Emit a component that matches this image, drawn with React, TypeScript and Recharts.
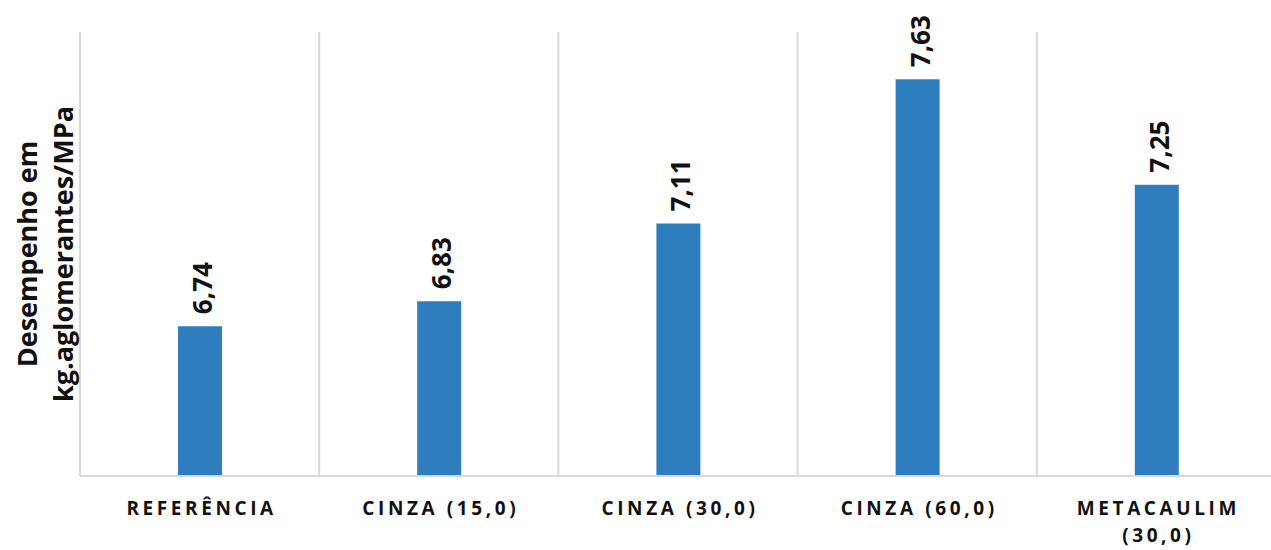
import React from 'react';
import { BarChart, Bar, XAxis, YAxis, CartesianGrid, LabelList } from 'recharts';

const categories = ['REFERÊNCIA', 'CINZA (15,0)', 'CINZA (30,0)', 'CINZA (60,0)', 'METACAULIM (30,0)'];
const desempenho = [6.74, 6.83, 7.11, 7.63, 7.25];
const yDomain = [6.2, 7.8];
const yTitle = ['Desempenho em', 'kg.aglomerantes/MPa'];

const data = categories.map((name, i) => ({ name, value: desempenho[i] }));

const FONT = '"Open Sans", "DejaVu Sans", sans-serif';
const GRID = '#d9d9d9';

// splits long category names onto two lines like the original
const CategoryTick = (props: any) => {
  const { x, y, payload } = props;
  const text: string = payload.value;
  let lines = [text];
  if (text.length > 14) {
    const cut = text.lastIndexOf(' ');
    lines = [text.slice(0, cut), text.slice(cut + 1)];
  }
  return (
    <text
      x={x}
      y={y}
      textAnchor="middle"
      fontFamily={FONT}
      fontWeight={700}
      fontSize={19}
      letterSpacing={3.6}
      fill="#111"
    >
      {lines.map((l, i) => (
        <tspan key={i} x={x + 2} dy={i === 0 ? 31 : 27}>
          {l}
        </tspan>
      ))}
    </text>
  );
};

const ValueLabel = (props: any) => {
  const { x, y, width, value } = props;
  const cx = x + width / 2 + 2;
  const ty = y - 12;
  return (
    <text
      x={cx}
      y={ty}
      transform={`rotate(-90 ${cx} ${ty})`}
      textAnchor="start"
      dominantBaseline="central"
      fontFamily={FONT}
      fontWeight={700}
      fontSize={26}
      fill="#111"
    >
      {Number(value).toFixed(2).replace('.', ',')}
    </text>
  );
};

const YTitle = (props: any) => {
  const { viewBox } = props;
  const cy = viewBox.y + viewBox.height / 2;
  const cols = [26, 62];
  return (
    <g>
      {yTitle.map((t, i) => (
        <text
          key={i}
          x={cols[i]}
          y={cy}
          transform={`rotate(-90 ${cols[i]} ${cy})`}
          textAnchor="middle"
          dominantBaseline="central"
          fontFamily={FONT}
          fontWeight={700}
          fontSize={27}
          fill="#111"
        >
          {t}
        </text>
      ))}
    </g>
  );
};

export default function App() {
  return (
    <div style={{ position: 'absolute', left: 0, top: 0, width: 1271, height: 550, overflow: 'hidden', background: '#fff' }}>
      <BarChart
        width={1280}
        height={550}
        data={data}
        margin={{ top: 32, right: 4, bottom: 44, left: 0 }}
        barSize={44}
      >
        <CartesianGrid
          horizontal={false}
          stroke={GRID}
          strokeWidth={2}
          verticalCoordinatesGenerator={({ offset }: any) =>
            Array.from({ length: categories.length + 1 }, (_, i) => offset.left + (i * offset.width) / categories.length)
          }
        />
        <XAxis
          dataKey="name"
          height={30}
          axisLine={{ stroke: GRID, strokeWidth: 2 }}
          tickLine={false}
          interval={0}
          tick={<CategoryTick />}
        />
        <YAxis
          width={80}
          domain={yDomain}
          allowDataOverflow
          tick={false}
          axisLine={false}
          tickLine={false}
          label={<YTitle />}
        />
        <Bar dataKey="value" fill="#2e7ebf" isAnimationActive={false}>
          <LabelList dataKey="value" content={<ValueLabel />} />
        </Bar>
      </BarChart>
    </div>
  );
}
